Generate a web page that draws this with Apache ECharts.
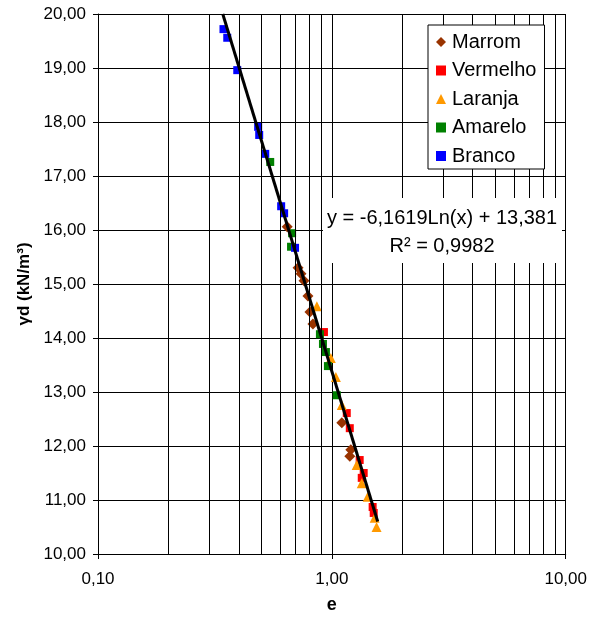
<!DOCTYPE html>
<html>
<head>
<meta charset="utf-8">
<script src="https://cdn.jsdelivr.net/npm/echarts@6/dist/echarts.min.js"></script>
<style>
  html, body { margin: 0; padding: 0; background: #fff; }
  #chart { width: 590px; height: 621px; }
</style>
</head>
<body>
<div id="chart"></div>
<script>
// Void ratio (e) vs dry unit weight (γd), per soil colour
const marromE = [0.644, 0.717, 0.738, 0.760, 0.790, 0.806, 0.830, 1.103, 1.205, 1.193];
const marromG = [16.06, 15.30, 15.19, 15.06, 14.78, 14.48, 14.26, 12.43, 11.93, 11.81];

const vermelhoE = [0.925, 1.158, 1.193, 1.315, 1.368, 1.342, 1.494, 1.510];
const vermelhoG = [14.11, 12.61, 12.33, 11.74, 11.50, 11.41, 10.87, 10.76];

const laranjaE = [0.863, 0.990, 1.040, 1.103, 1.277, 1.342, 1.423, 1.524, 1.553];
const laranjaG = [14.59, 13.63, 13.28, 12.76, 11.65, 11.31, 11.06, 10.67, 10.50];

const amareloE = [0.545, 0.676, 0.669, 0.889, 0.916, 0.943, 0.962, 1.050];
const amareloG = [17.26, 15.94, 15.69, 14.07, 13.89, 13.74, 13.48, 12.94];

const brancoE = [0.344, 0.357, 0.394, 0.484, 0.489, 0.519, 0.607, 0.625, 0.696];
const brancoG = [19.72, 19.56, 18.96, 17.91, 17.76, 17.41, 16.44, 16.31, 15.67];

// Logarithmic trend line: y = a·ln(x) + b
const trendA = -6.1619;
const trendB = 13.381;
const trendR2 = 0.9982;
const trendRangeE = [0.3416, 1.57];

// Minor grid positions on the log axis
const minorE = [0.2, 0.3, 0.4, 0.5, 0.6, 0.7, 0.8, 0.9, 2, 3, 4, 5, 6, 7, 8, 9];

const fmt = (v, d) => v.toFixed(d).replace('.', ',');
const pairs = (xs, ys) => xs.map((x, i) => [x, ys[i]]);
const trendData = trendRangeE.map(x => [x, trendA * Math.log(x) + trendB]);

const FONT = 'Liberation Sans, Arial, sans-serif';

const chart = echarts.init(document.getElementById('chart'), null, { renderer: 'canvas' });

const scatter = (name, xs, ys, symbol, size, color) => ({
  name, type: 'scatter', data: pairs(xs, ys), symbol, symbolSize: size,
  itemStyle: { color, opacity: 1 }, z: 3, animation: false
});

chart.setOption({
  animation: false,
  backgroundColor: '#fff',
  grid: { left: 98, top: 14, right: 23, bottom: 67, containLabel: false },
  xAxis: {
    type: 'log', logBase: 10, min: 0.1, max: 10,
    name: 'e', nameLocation: 'middle', nameGap: 42,
    nameTextStyle: { fontFamily: FONT, fontWeight: 'bold', fontSize: 18, color: '#000' },
    axisLine: { show: true, onZero: false, lineStyle: { color: '#000', width: 1 } },
    axisTick: { show: true, inside: false, length: 5, lineStyle: { color: '#000' } },
    axisLabel: { margin: 17, fontFamily: FONT, fontSize: 17, color: '#000',
      formatter: v => fmt(v, 2) },
    splitLine: { show: true, lineStyle: { color: '#000', width: 1 } },
    minorTick: { show: false }, minorSplitLine: { show: false }
  },
  yAxis: {
    type: 'value', min: 10, max: 20, interval: 1,
    name: 'γd (kN/m³)', nameLocation: 'middle', nameGap: 64, nameRotate: 90,
    nameTextStyle: { fontFamily: FONT, fontWeight: 'bold', fontSize: 17, color: '#000' },
    axisLine: { show: true, lineStyle: { color: '#000', width: 1 } },
    axisTick: { show: true, inside: false, length: 5, lineStyle: { color: '#000' } },
    axisLabel: { margin: 12, fontFamily: FONT, fontSize: 17, color: '#000',
      formatter: v => fmt(v, 2) },
    splitLine: { show: true, lineStyle: { color: '#000', width: 1 } }
  },
  legend: {
    orient: 'vertical', left: 428, top: 25,
    data: [
      { name: 'Marrom', icon: 'diamond' },
      { name: 'Vermelho', icon: 'rect' },
      { name: 'Laranja', icon: 'triangle' },
      { name: 'Amarelo', icon: 'rect' },
      { name: 'Branco', icon: 'rect' }
    ],
    itemWidth: 10, itemHeight: 10, itemGap: 8.5,
    padding: [7, 8, 3, 8],
    backgroundColor: '#fff', borderColor: '#000', borderWidth: 1, borderRadius: 0,
    textStyle: { fontFamily: FONT, fontSize: 20, color: '#000', padding: [0, 0, 0, 1] },
    selectedMode: false, z: 10
  },
  graphic: [
    { type: 'rect', z: 50, shape: { x: 323, y: 198, width: 239, height: 65 },
      style: { fill: '#fff' } },
    { type: 'text', z: 51, left: null, x: 442, y: 218,
      style: { text: 'y = ' + fmt(trendA, 4) + 'Ln(x) + ' + fmt(trendB, 3),
        font: '20px ' + FONT, fill: '#000', align: 'center', verticalAlign: 'middle' } },
    { type: 'text', z: 51, x: 442, y: 246,
      style: { text: 'R² = ' + fmt(trendR2, 4),
        font: '20px ' + FONT, fill: '#000', align: 'center', verticalAlign: 'middle' } }
  ],
  series: [
    {
      name: 'trend', type: 'line', data: trendData, symbol: 'none', z: 4,
      lineStyle: { color: '#000', width: 3 }, silent: true,
      markLine: {
        silent: true, symbol: 'none', animation: false,
        label: { show: false },
        lineStyle: { color: '#000', width: 1, type: 'solid' },
        emphasis: { disabled: true },
        data: minorE.map(v => ({ xAxis: v }))
      }
    },
    scatter('Marrom', marromE, marromG, 'diamond', 11, '#993300'),
    scatter('Vermelho', vermelhoE, vermelhoG, 'rect', 8, '#FF0000'),
    scatter('Laranja', laranjaE, laranjaG, 'triangle', 10, '#FF9900'),
    scatter('Amarelo', amareloE, amareloG, 'rect', 8, '#008000'),
    scatter('Branco', brancoE, brancoG, 'rect', 8, '#0000FF')
  ]
});
</script>
</body>
</html>
